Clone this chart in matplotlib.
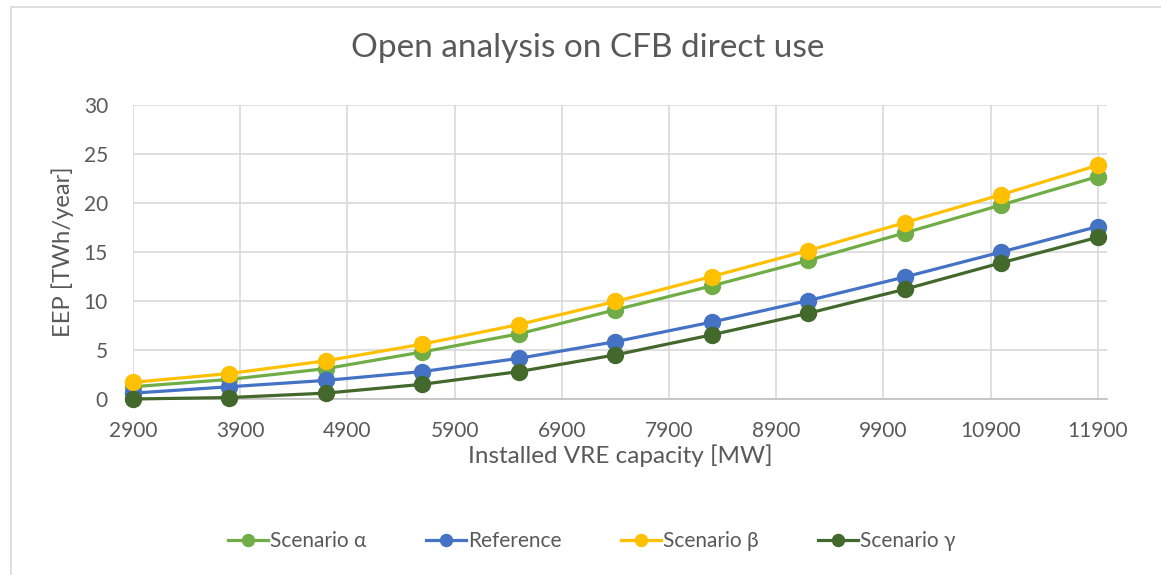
import matplotlib
matplotlib.use("Agg")
import matplotlib.pyplot as plt
from matplotlib.patches import Rectangle

capacity = [2900, 3800, 4700, 5600, 6500, 7400, 8300, 9200, 10100, 11000, 11900]
scenario_alpha = [1.25, 2.0, 3.1, 4.8, 6.65, 9.1, 11.55, 14.15, 16.95, 19.8, 22.7]
reference = [0.6, 1.25, 1.9, 2.8, 4.15, 5.85, 7.85, 10.05, 12.45, 15.0, 17.6]
scenario_beta = [1.7, 2.6, 3.9, 5.6, 7.6, 9.95, 12.5, 15.15, 18.0, 20.85, 23.85]
scenario_gamma = [0.0, 0.15, 0.6, 1.5, 2.8, 4.5, 6.55, 8.75, 11.2, 13.9, 16.5]
x_ticks = list(range(2900, 12900, 1000))
y_ticks = [0, 5, 10, 15, 20, 25, 30]

series = [
    ("Scenario α", scenario_alpha, "#70AD47"),
    ("Reference", reference, "#4472C4"),
    ("Scenario β", scenario_beta, "#FFC000"),
    ("Scenario γ", scenario_gamma, "#43682B"),
]

plt.rcParams['font.family'] = ['Lato', 'DejaVu Sans']
txt = "#595959"

W, H = 1161, 575
fig = plt.figure(figsize=(W / 100, H / 100), dpi=100)
fig.patches.append(Rectangle((11 / W, -0.1), 1.2, 1 - 7 / H + 0.1, transform=fig.transFigure,
                             fill=False, edgecolor="#D9D9D9", linewidth=1.2, zorder=0))

left, right, top, bottom = 133, 1107, 105, 399
ax = fig.add_axes([left / W, 1 - bottom / H, (right - left) / W, (bottom - top) / H])

for name, vals, col in series:
    ax.plot(capacity, vals, color=col, linewidth=2.3, marker='o', markersize=11.5,
            label=name, clip_on=False, zorder=3)

ax.set_xlim(2900, 2900 + (right - left) / 107.2 * 1000)
ax.set_ylim(0, 30)
ax.set_xticks(x_ticks)
ax.set_yticks(y_ticks)
ax.tick_params(axis='both', length=0, labelsize=15, colors=txt)
ax.tick_params(axis='x', pad=16)
ax.tick_params(axis='y', pad=18)
ax.grid(True, color="#D9D9D9", linewidth=1.2)
ax.set_axisbelow(True)
for s in ['top', 'right', 'left']:
    ax.spines[s].set_visible(False)
ax.spines['bottom'].set_color("#BFBFBF")
ax.spines['bottom'].set_linewidth(1.2)

ax.set_xlabel("Installed VRE capacity [MW]", fontsize=17.5, color=txt, labelpad=2)
ax.set_ylabel("EEP [TWh/year]", fontsize=17.2, color=txt, va='center')
ax.yaxis.set_label_coords((63 - left) / (right - left), 0.5)

fig.text(588 / W, 1 - 48 / H, "Open analysis on CFB direct use", ha='center', va='center',
         fontsize=24, color=txt)

leg = fig.legend(loc='center', bbox_to_anchor=(592 / W, 1 - 541 / H), ncol=4, frameon=False,
                 fontsize=15, handlelength=1.9, columnspacing=2.85, handletextpad=0.12,
                 markerscale=0.75)
for t in leg.get_texts():
    t.set_color(txt)

fig.savefig("out.png", dpi=100)
